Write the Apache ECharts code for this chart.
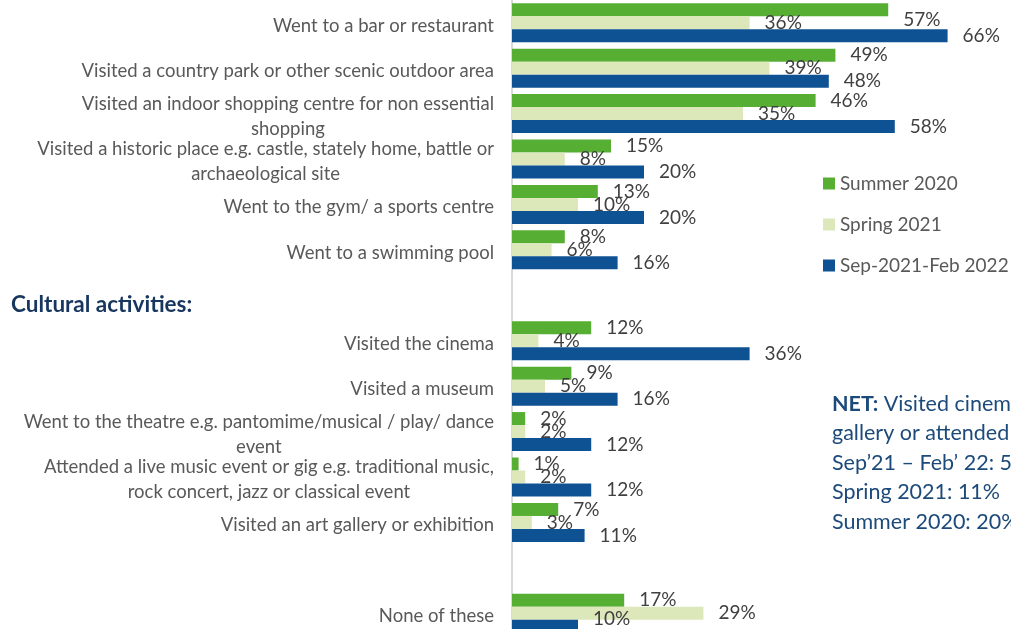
<!DOCTYPE html>
<html>
<head>
<meta charset="utf-8">
<script src="https://cdn.jsdelivr.net/npm/echarts@6/dist/echarts.min.js"></script>
<style>
  html, body { margin: 0; padding: 0; background: #ffffff; }
  #chart { width: 1011px; height: 629px; }
</style>
</head>
<body>
<div id="chart"></div>
<script>
// Activities, top to bottom; empty entries are spacer rows
const categories = [
  'Went to a bar or restaurant',
  'Visited a country park or other scenic outdoor area',
  'Visited an indoor shopping centre for non essential\nshopping',
  'Visited a historic place e.g. castle, stately home, battle or\narchaeological site',
  'Went to the gym/ a sports centre',
  'Went to a swimming pool',
  '',
  'Visited the cinema',
  'Visited a museum',
  'Went to the theatre e.g. pantomime/musical / play/ dance\nevent',
  'Attended a live music event or gig e.g. traditional music,\nrock concert, jazz or classical event',
  'Visited an art gallery or exhibition',
  '',
  'None of these'
];

const seriesNames = ['Summer 2020', 'Spring 2021', 'Sep-2021-Feb 2022'];

// Percentages per activity
const summer2020 = [57, 49, 46, 15, 13, 8, null, 12, 9, 2, 1, 7, null, 17];
const spring2021 = [36, 39, 35, 8, 10, 6, null, 4, 5, 2, 2, 3, null, 29];
const sep21feb22 = [66, 48, 58, 20, 20, 16, null, 36, 16, 12, 12, 11, null, 10];

const sectionHeading = 'Cultural activities:';
const netLines = [
  '{b|NET:} Visited cinema, museum, art',
  'gallery or attended a live event',
  'Sep’21 – Feb’ 22: 52%',
  'Spring 2021: 11%',
  'Summer 2020: 20%'
];

const colors = ['#56AE32', '#DCE7BA', '#0E5293'];
const FONT = 'Lato, "Open Sans", sans-serif';

// a couple of labels sit slightly off their bar so they stay on the canvas
const labelShift = { 0: { 0: [0, 10] }, 2: { 13: [0, -7] } };

const valueSets = [summer2020, spring2021, sep21feb22];

const series = valueSets.map((vals, s) => ({
  name: seriesNames[s],
  type: 'bar',
  z: 2 + s,
  barWidth: 13,
  barGap: '0%',
  itemStyle: { color: colors[s] },
  label: {
    show: true,
    position: 'right',
    distance: 15,
    formatter: p => p.value == null ? '' : p.value + '%',
    color: '#404040',
    fontSize: 19,
    fontFamily: FONT
  },
  data: vals.map((v, i) => {
    const shift = labelShift[s] && labelShift[s][i];
    return shift ? { value: v, label: { offset: shift } } : v;
  })
}));

const chart = echarts.init(document.getElementById('chart'));
chart.setOption({
  backgroundColor: '#ffffff',
  animation: false,
  grid: {
    left: 512,
    width: 462,
    top: 0,
    height: 636,
    outerBoundsMode: 'none',
    containLabel: false
  },
  legend: {
    orient: 'vertical',
    left: 818,
    top: 169,
    itemWidth: 12,
    itemHeight: 12,
    itemGap: 22,
    icon: 'rect',
    data: seriesNames,
    textStyle: { color: '#595959', fontSize: 19, lineHeight: 19, fontFamily: FONT }
  },
  xAxis: {
    type: 'value',
    min: 0,
    max: 70,
    show: false
  },
  yAxis: {
    type: 'category',
    inverse: true,
    data: categories,
    axisTick: { show: false },
    axisLine: { show: true, lineStyle: { color: '#D9D9D9', width: 2 } },
    splitLine: { show: false },
    axisLabel: {
      margin: 18,
      padding: [6, 0, 0, 0],
      formatter: v => v.split('\n').map(line => '{c|' + line + '}').join('\n'),
      rich: {
        c: { align: 'center', color: '#595959', fontSize: 18.5, lineHeight: 25, fontFamily: FONT }
      }
    }
  },
  graphic: [
    {
      type: 'text',
      left: 11,
      top: 293,
      style: {
        text: sectionHeading,
        fill: '#17375E',
        font: 'bold 22.5px ' + FONT
      }
    },
    {
      type: 'text',
      left: 832,
      top: 389,
      style: {
        text: netLines.join('\n'),
        fill: '#1C4A7A',
        fontSize: 21.5,
        fontFamily: FONT,
        lineHeight: 29.5,
        rich: {
          b: { fontWeight: 'bold', fill: '#1C4A7A', fontSize: 21.5, fontFamily: FONT, lineHeight: 29.5 }
        }
      }
    }
  ],
  series: series
});
</script>
</body>
</html>
